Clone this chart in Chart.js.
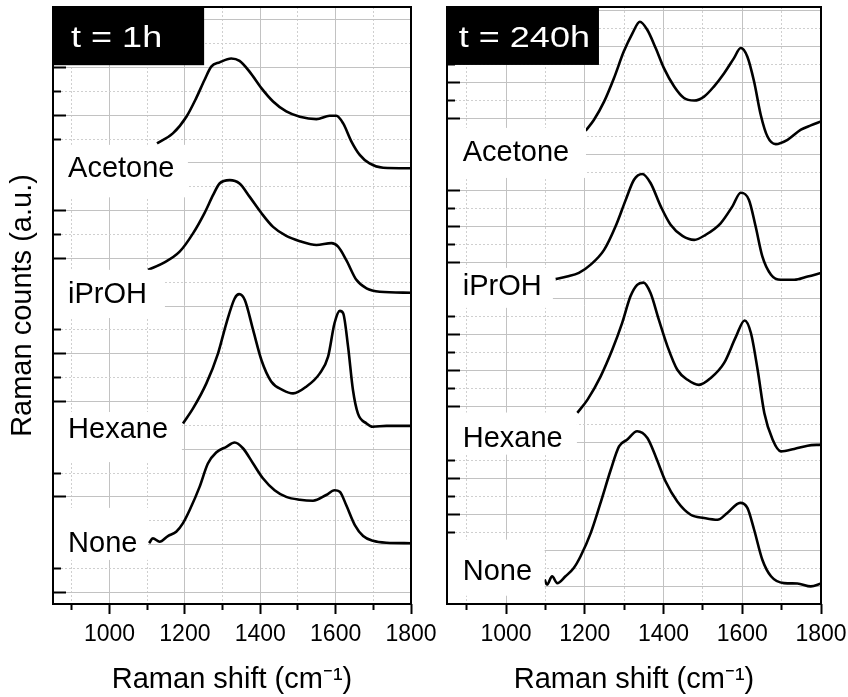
<!DOCTYPE html>
<html>
<head>
<meta charset="utf-8">
<script src="https://cdn.jsdelivr.net/npm/chart.js@4.4.1/dist/chart.umd.min.js"></script>
<style>
  html, body { margin: 0; padding: 0; background: #fff; }
  body { width: 848px; height: 697px; position: relative; overflow: hidden; }
  canvas { position: absolute; top: 0; }
  #c1h { left: 0; }
  #c240h { left: 430px; }
</style>
</head>
<body>
<canvas id="c1h" width="445" height="697"></canvas>
<canvas id="c240h" width="418" height="697"></canvas>
<script>
const timeLabels = ["t = 1h", "t = 240h"];
const solvents = ["Acetone", "iPrOH", "Hexane", "None"];
const shiftTicks = [1000, 1200, 1400, 1600, 1800];
const shiftMinorTicks = [900, 1100, 1300, 1500, 1700];

// t = 1h
const shift1hAcetone = [1126,1168,1204,1230,1252,1270,1292,1323,1345,1372,1403,1434,1469,1505,1549,1584,1602,1620,1642,1664,1690,1726,1800];
const counts1hAcetone = [9.41,9.62,9.97,10.36,10.74,11.02,11.11,11.19,11.14,10.91,10.57,10.29,10.08,9.97,9.92,9.99,9.99,9.83,9.45,9.17,8.99,8.90,8.89];
const shift1hIPrOH = [1102,1142,1186,1222,1252,1275,1292,1319,1345,1372,1403,1434,1469,1505,1549,1589,1606,1628,1655,1682,1717,1800];
const counts1hIPrOH = [6.76,6.90,7.14,7.53,7.95,8.33,8.57,8.64,8.57,8.29,7.95,7.66,7.47,7.36,7.28,7.32,7.25,6.97,6.55,6.37,6.30,6.28];
const shift1hHexane = [1195,1222,1257,1288,1310,1332,1344,1359,1381,1403,1429,1460,1487,1522,1558,1580,1597,1611,1620,1633,1646,1659,1682,1699,1735,1800];
const counts1hHexane = [3.54,3.86,4.38,5.01,5.64,6.16,6.25,6.13,5.50,4.87,4.42,4.24,4.17,4.31,4.59,4.94,5.64,5.90,5.85,5.15,4.24,3.75,3.54,3.47,3.49,3.49];
const shift1hNone = [1105,1115,1133,1155,1177,1195,1213,1239,1261,1283,1310,1332,1354,1381,1407,1438,1469,1505,1540,1575,1597,1611,1628,1651,1673,1699,1735,1800];
const counts1hNone = [1.03,1.13,1.06,1.18,1.27,1.45,1.73,2.21,2.70,2.93,3.05,3.14,3.02,2.70,2.39,2.14,2.00,1.94,1.92,2.04,2.14,2.11,1.83,1.41,1.18,1.08,1.04,1.03];

// t = 240h
const shift240hAcetone = [1202,1223,1249,1274,1299,1321,1340,1359,1380,1401,1427,1452,1478,1503,1528,1554,1579,1596,1613,1630,1647,1664,1685,1715,1749,1774,1800];
const counts240hAcetone = [12.66,12.96,13.47,14.12,14.86,15.37,15.69,15.46,14.96,14.40,13.89,13.57,13.50,13.61,13.89,14.26,14.68,14.96,14.72,14.03,13.10,12.50,12.29,12.41,12.69,12.81,12.92];
const shift240hIPrOH = [1126,1155,1185,1215,1249,1278,1304,1325,1346,1367,1393,1418,1448,1478,1507,1545,1575,1596,1617,1634,1651,1673,1698,1732,1766,1800];
const counts240hIPrOH = [8.54,8.61,8.71,8.94,9.35,10.00,10.74,11.30,11.46,11.21,10.56,10.05,9.74,9.63,9.77,10.09,10.56,10.94,10.74,10.00,9.17,8.66,8.52,8.52,8.61,8.71];
const shift240hHexane = [1181,1207,1240,1270,1295,1316,1333,1349,1367,1388,1410,1435,1461,1490,1520,1554,1584,1606,1622,1639,1656,1677,1698,1732,1766,1800];
const counts240hHexane = [4.82,5.19,5.83,6.58,7.32,8.06,8.38,8.44,8.15,7.41,6.67,6.02,5.74,5.60,5.79,6.21,6.94,7.39,7.04,6.02,4.82,4.08,3.75,3.82,3.91,3.94];
const shift240hNone = [1098,1104,1117,1130,1151,1172,1189,1215,1240,1266,1287,1308,1333,1359,1380,1405,1435,1469,1503,1537,1562,1595,1613,1630,1651,1673,1706,1740,1774,1800];
const counts240hNone = [0.19,0.05,0.28,0.09,0.28,0.51,0.83,1.48,2.32,3.24,3.89,4.08,4.31,4.12,3.61,2.92,2.36,1.99,1.90,1.85,2.04,2.32,2.18,1.58,0.74,0.28,0.09,0.08,0.00,0.08];

// y grid (arbitrary offset units, one unit per long tick)
const yMajor1h = [0,1,2,3,4,5,6,7,8,9,10,11,12];
const yMinor1h = [0.5,1.5,2.5,3.5,4.5,5.5,6.5,7.5,8.5,9.5,10.5,11.5];
const yMajor240h = [0,1,2,3,4,5,6,7,8,9,10,11,12,13,14,15,16];
const yMinor240h = [0.5,1.5,2.5,3.5,4.5,5.5,6.5,7.5,8.5,9.5,10.5,11.5,12.5,13.5,14.5,15.5];

const FONT = "'Liberation Sans', Arial, Helvetica, sans-serif";
Chart.defaults.font.family = FONT;
Chart.defaults.color = "#000";

// white boxes behind the solvent names, black box with the time
const panelLabels = {
    id: "panelLabels",
    afterDatasetsDraw(chart, args, opts) {
        const {ctx, chartArea: a} = chart;
        const x = chart.scales.x, y = chart.scales.y;
        ctx.save();
        opts.boxes.forEach((b, i) => {
            const r = x.getPixelForValue(b.right);
            const t = y.getPixelForValue(b.top);
            const btm = y.getPixelForValue(b.bottom);
            ctx.fillStyle = "#fff";
            ctx.fillRect(a.left + 1, t, r - a.left - 1, btm - t);
            ctx.fillStyle = "#000";
            ctx.font = "29px " + FONT;
            ctx.textBaseline = "alphabetic";
            ctx.fillText(solvents[i], x.getPixelForValue(opts.textX), y.getPixelForValue(b.baseline));
        });
        const tag = opts.tag;
        const tr = x.getPixelForValue(tag.right);
        const tb = y.getPixelForValue(tag.bottom);
        ctx.fillStyle = "#000";
        ctx.fillRect(a.left, a.top, tr - a.left, tb - a.top);
        ctx.fillStyle = "#fff";
        ctx.font = "30px " + FONT;
        // the tag lettering is wide, stretch it a bit
        ctx.save();
        ctx.translate(x.getPixelForValue(tag.textX), y.getPixelForValue(tag.baseline));
        ctx.scale(1.2, 1);
        ctx.fillText(tag.text, 0, 0);
        ctx.restore();
        // frame
        ctx.strokeStyle = "#000";
        ctx.lineWidth = 2;
        ctx.strokeRect(a.left, a.top, a.right - a.left, a.bottom - a.top);
        ctx.restore();
    }
};

function line(xs, ys) {
    return {
        data: xs.map((v, i) => ({x: v, y: ys[i]})),
        borderColor: "#000",
        borderWidth: 2.6,
        pointRadius: 0,
        fill: false,
        cubicInterpolationMode: "monotone"
    };
}

function makeChart(id, sets, p) {
    return new Chart(id, {
        type: "line",
        data: {datasets: sets},
        plugins: [panelLabels],
        options: {
            responsive: false,
            animation: false,
            events: [],
            layout: {padding: {top: 7, right: p.padRight, bottom: 0, left: 0}},
            plugins: {
                legend: {display: false},
                tooltip: {enabled: false},
                panelLabels: p.labels
            },
            scales: {
                x: {
                    type: "linear", position: "bottom", min: 850, max: 1800, weight: 1,
                    afterBuildTicks: s => { s.ticks = shiftTicks.map(v => ({value: v})); },
                    afterFit: s => { s.height = 93; s.paddingLeft = 0; s.paddingRight = 0; },
                    grid: {color: "#c2c2c2", lineWidth: 1, drawTicks: true, tickLength: 10, tickColor: "#000", tickWidth: 2},
                    border: {display: false},
                    ticks: {font: {size: 23}, padding: 7, maxRotation: 0, autoSkip: false, callback: v => String(v)},
                    title: {display: true, text: "Raman shift (cm\u207B\u00B9)", font: {size: 29}, padding: {top: 0, bottom: 0}}
                },
                xMinor: {
                    type: "linear", position: "bottom", min: 850, max: 1800, weight: 0,
                    afterBuildTicks: s => { s.ticks = shiftMinorTicks.map(v => ({value: v})); },
                    afterFit: s => { s.height = 0; },
                    grid: {color: "#cfcfcf", lineWidth: 1, drawTicks: true, tickLength: 6, tickColor: "#000", tickWidth: 2},
                    border: {display: false, dash: [2, 2]},
                    ticks: {display: false}
                },
                y: {
                    type: "linear", position: "left", min: p.yMin, max: p.yMax, weight: 1,
                    afterBuildTicks: s => { s.ticks = p.yMajor.map(v => ({value: v})); },
                    afterFit: s => { s.width = p.yWidth; },
                    grid: {color: "#c2c2c2", lineWidth: 1, drawTicks: true, tickLength: -13, tickColor: "#000", tickWidth: 2},
                    border: {display: false},
                    ticks: {display: false},
                    title: {display: p.yTitle, text: "Raman counts (a.u.)", font: {size: 29}, padding: {top: 6, bottom: 0}}
                },
                yMinor: {
                    type: "linear", position: "left", min: p.yMin, max: p.yMax, weight: 0,
                    afterBuildTicks: s => { s.ticks = p.yMinor.map(v => ({value: v})); },
                    afterFit: s => { s.width = 0; },
                    grid: {color: "#cfcfcf", lineWidth: 1, drawTicks: true, tickLength: -8, tickColor: "#000", tickWidth: 2},
                    border: {display: false, dash: [2, 2]},
                    ticks: {display: false}
                }
            }
        }
    });
}

makeChart("c1h", [
    line(shift1hAcetone, counts1hAcetone),
    line(shift1hIPrOH, counts1hIPrOH),
    line(shift1hHexane, counts1hHexane),
    line(shift1hNone, counts1hNone)
], {
    padRight: 34, yWidth: 53, yTitle: true,
    yMin: -0.245, yMax: 12.27, yMajor: yMajor1h, yMinor: yMinor1h,
    labels: {
        textX: 890,
        boxes: [
            {right: 1208, top: 9.38, bottom: 8.28, baseline: 8.71},
            {right: 1147, top: 6.76, bottom: 5.75, baseline: 6.07},
            {right: 1192, top: 3.78, bottom: 2.73, baseline: 3.23},
            {right: 1102, top: 1.77, bottom: 0.68, baseline: 0.845}
        ],
        tag: {text: timeLabels[0], right: 1251, bottom: 11.05, textX: 898, baseline: 11.44}
    }
});

makeChart("c240h", [
    line(shift240hAcetone, counts240hAcetone),
    line(shift240hIPrOH, counts240hIPrOH),
    line(shift240hHexane, counts240hHexane),
    line(shift240hNone, counts240hNone)
], {
    padRight: 27, yWidth: 17, yTitle: false,
    yMin: -0.49, yMax: 16.1, yMajor: yMajor240h, yMinor: yMinor240h,
    labels: {
        textX: 890,
        boxes: [
            {right: 1203, top: 12.74, bottom: 11.35, baseline: 11.83},
            {right: 1119, top: 8.85, bottom: 7.74, baseline: 8.10},
            {right: 1180, top: 4.83, bottom: 3.66, baseline: 3.88},
            {right: 1098, top: 1.30, bottom: -0.26, baseline: 0.19}
        ],
        tag: {text: timeLabels[1], right: 1236, bottom: 14.49, textX: 880, baseline: 15.0}
    }
});
</script>
</body>
</html>
